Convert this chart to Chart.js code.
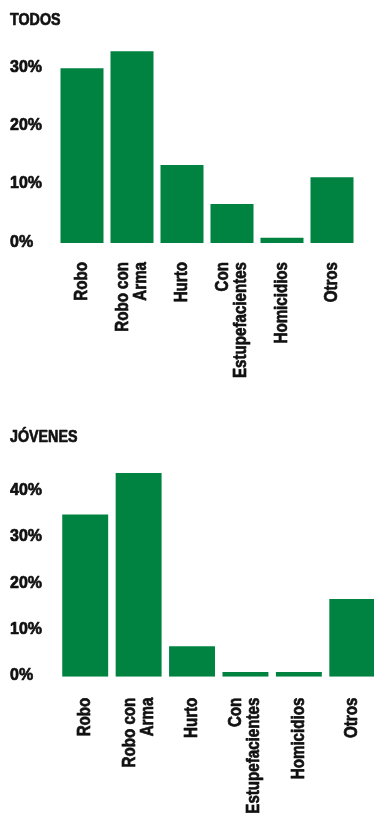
<!DOCTYPE html>
<html>
<head>
<meta charset="utf-8">
<script src="https://cdn.jsdelivr.net/npm/chart.js@4/dist/chart.umd.min.js"></script>
<style>
  html, body { margin: 0; padding: 0; background: #fff; overflow: hidden; width: 374px; height: 818px; }
  .panel { position: absolute; left: 0; overflow: visible; }
  #todos { top: 0; width: 374px; height: 410px; }
  #jovenes { top: 417px; width: 382px; height: 401px; }
  canvas { display: block; }
</style>
</head>
<body>
<div class="panel" id="todos"><canvas id="c1" width="374" height="410" style="width:374px;height:410px"></canvas></div>
<div class="panel" id="jovenes"><canvas id="c2" width="382" height="401" style="width:382px;height:401px"></canvas></div>
<script>
// Crime categories (multi-line labels as arrays)
const categories = [["Robo"], ["Robo con", "Arma"], ["Hurto"], ["Con", "Estupefacientes"], ["Homicidios"], ["Otros"]];

// Share of detentions per category, in percent
const todosValues = [30, 32.9, 13.4, 6.7, 0.9, 11.3];
const jovenesValues = [35, 44, 6.6, 1, 1, 16.8];

// Y axis tick labels
const todosTicks = [0, 10, 20, 30];
const jovenesTicks = [0, 10, 20, 30, 40];

const GREEN = '#008341';
const INK = '#111111';
const FONT = '"Liberation Sans", Arial, sans-serif';
const LABEL_SIZE = 18;

// Heavy condensed text: narrow the bold sans horizontally and thicken its strokes
const condensedText = {
  id: 'condensedText',
  beforeInit(chart) {
    const ctx = chart.ctx;
    const fill = ctx.fillText;
    const stroke = ctx.strokeText;
    ctx.fillText = function (text, x, y, maxWidth) {
      const s = String(text);
      const k = /%$/.test(s) ? 0.94 : 0.84;
      let w = this.measureText(s).width * k;
      if (maxWidth !== undefined) w = Math.min(maxWidth, w);
      fill.call(this, s, x, y, w);
      this.save();
      this.strokeStyle = this.fillStyle;
      this.lineWidth = 0.7;
      this.lineJoin = 'round';
      stroke.call(this, s, x, y, w);
      this.restore();
    };
  }
};

// Center multi-line rotated category labels on their tick
const centerLabelLines = {
  id: 'centerLabelLines',
  beforeDraw(chart) {
    const scale = chart.scales.x;
    scale.getLabelItems().forEach(item => {
      if (item._centered) return;
      const n = Array.isArray(item.label) ? item.label.length : 1;
      item.options.translation[0] -= (n - 1) * LABEL_SIZE / 2;
      item._centered = true;
    });
  }
};

function makeChart(canvas, title, values, ticks, cfg) {
  return new Chart(canvas, {
    type: 'bar',
    data: {
      labels: categories,
      datasets: [{
        data: values,
        backgroundColor: GREEN,
        borderWidth: 0,
        categoryPercentage: 1,
        barPercentage: 0.86
      }]
    },
    plugins: [condensedText, centerLabelLines],
    options: {
      responsive: false,
      animation: false,
      devicePixelRatio: 1,
      layout: { padding: { left: 10, right: cfg.padRight, top: 0, bottom: 0 } },
      plugins: {
        legend: { display: false },
        tooltip: { enabled: false },
        title: {
          display: true,
          text: title,
          align: 'start',
          color: INK,
          font: { family: FONT, size: 17, weight: 'bold', lineHeight: 1.2 },
          padding: { top: 10, bottom: cfg.titleGap }
        }
      },
      scales: {
        x: {
          grid: { display: false, drawTicks: false },
          border: { display: false },
          ticks: {
            color: INK,
            autoSkip: false,
            minRotation: 90,
            maxRotation: 90,
            padding: cfg.labelGap,
            font: { family: FONT, size: LABEL_SIZE, weight: 'bold', lineHeight: 1.0 }
          },
          afterFit: s => {
            s.height = cfg.xHeight;
            s.paddingLeft = 0;
            s.paddingRight = 0;
          }
        },
        y: {
          min: 0,
          max: cfg.max,
          grid: { display: false, drawTicks: false },
          border: { display: false },
          ticks: {
            color: INK,
            crossAlign: 'far',
            padding: 0,
            labelOffset: -1,
            font: { family: FONT, size: 17, weight: 'bold' },
            callback: v => v + '%'
          },
          afterBuildTicks: s => { s.ticks = ticks.map(v => ({ value: v })); },
          afterFit: s => {
            s.width = cfg.yWidth;
            s.paddingTop = 0;
            s.paddingBottom = 0;
          }
        }
      }
    }
  });
}

makeChart(document.getElementById('c1'), 'TODOS', todosValues, todosTicks,
  { max: 35, padRight: 17, titleGap: 8.6, labelGap: 19, xHeight: 167, yWidth: 47 });

makeChart(document.getElementById('c2'), 'JÓVENES', jovenesValues, jovenesTicks,
  { max: 45, padRight: 3, titleGap: 20.9, labelGap: 21, xHeight: 141.3, yWidth: 48.5 });
</script>
</body>
</html>
